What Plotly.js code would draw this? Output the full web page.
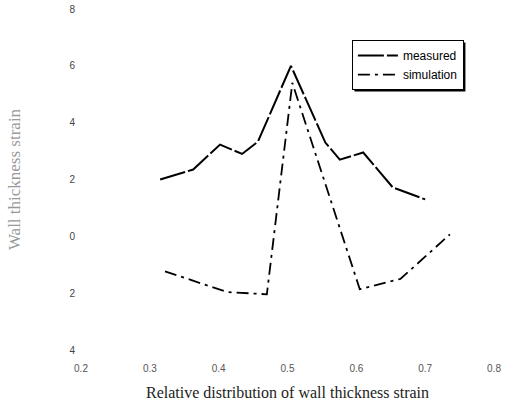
<!DOCTYPE html>
<html>
<head>
<meta charset="utf-8">
<script src="https://cdn.plot.ly/plotly-3.0.1.min.js"></script>
<style>html,body{margin:0;padding:0;background:#fff;}#chart{width:505px;height:407px;}</style>
</head>
<body>
<div id="chart"></div>
<script>
// Data
var measuredX = [0.315, 0.363, 0.402, 0.434, 0.457, 0.505, 0.555, 0.576, 0.610, 0.653, 0.700];
var measuredY = [2.00, 2.35, 3.23, 2.90, 3.33, 6.00, 3.30, 2.70, 2.95, 1.72, 1.30];
var simulationX = [0.322, 0.412, 0.470, 0.507, 0.605, 0.664, 0.736];
var simulationY = [-1.23, -1.96, -2.04, 5.40, -1.86, -1.50, 0.07];
var xTickVals = [0.2, 0.3, 0.4, 0.5, 0.6, 0.7, 0.8];
var xTickText = ["0.2", "0.3", "0.4", "0.5", "0.6", "0.7", "0.8"];
var yTickVals = [-4, -2, 0, 2, 4, 6, 8];
var yTickText = ["4", "2", "0", "2", "4", "6", "8"];

var traces = [
  {x: measuredX, y: measuredY, name: "measured", mode: "lines", type: "scatter",
   line: {color: "#000", width: 2, dash: "26px,3px"}},
  {x: simulationX, y: simulationY, name: "simulation", mode: "lines", type: "scatter",
   line: {color: "#000", width: 1.8, dash: "12px,5px,3px,5px"}}
];

var layout = {
  width: 505, height: 407,
  margin: {l: 81, r: 11, t: 9, b: 57},
  paper_bgcolor: "#fff", plot_bgcolor: "#fff",
  showlegend: true,
  legend: {
    x: 0.656, y: 0.909, xanchor: "left", yanchor: "top",
    bordercolor: "#000", borderwidth: 1, bgcolor: "#fff",
    font: {family: "Liberation Sans, Arial, sans-serif", size: 12, color: "#000"},
    tracegroupgap: 0, itemwidth: 40
  },
  xaxis: {
    range: [0.2, 0.8], tickvals: xTickVals, ticktext: xTickText,
    showgrid: false, zeroline: false, showline: false,
    ticks: "outside", ticklen: 9, tickcolor: "rgba(0,0,0,0)",
    tickfont: {family: "Liberation Sans, Arial, sans-serif", size: 10, color: "#555"},
    title: {text: "Relative distribution of wall thickness strain",
            font: {family: "Liberation Serif, Times New Roman, serif", size: 16, color: "#222"},
            standoff: 13}
  },
  yaxis: {
    range: [-4, 8], tickvals: yTickVals, ticktext: yTickText,
    showgrid: false, zeroline: false, showline: false,
    ticks: "outside", ticklen: 3, tickcolor: "rgba(0,0,0,0)",
    tickfont: {family: "Liberation Sans, Arial, sans-serif", size: 10, color: "#444"},
    title: {text: "Wall thickness strain",
            font: {family: "Liberation Serif, Times New Roman, serif", size: 17, color: "#999"},
            standoff: 44}
  }
};

Plotly.newPlot("chart", traces, layout, {displayModeBar: false, staticPlot: true}).then(function (gd) {
  // drop shadow behind the legend box (like the reference)
  var bg = gd.querySelector(".legend .bg");
  if (!bg) return;
  var r = bg.getBoundingClientRect();
  var c = gd.getBoundingClientRect();
  var sz = gd._fullLayout._size;
  function px2x(p) { return (p - sz.l) / sz.w; }
  function px2y(p) { return 1 - (p - sz.t) / sz.h; }
  var x0 = r.left - c.left + 2, x1 = r.right - c.left + 2;
  var y0 = r.top - c.top + 2, y1 = r.bottom - c.top + 2;
  Plotly.relayout(gd, {shapes: [{
    type: "rect", xref: "paper", yref: "paper", layer: "above",
    x0: px2x(x0), x1: px2x(x1), y0: px2y(y1), y1: px2y(y0),
    line: {width: 0}, fillcolor: "#000"
  }]});
});
</script>
</body>
</html>
